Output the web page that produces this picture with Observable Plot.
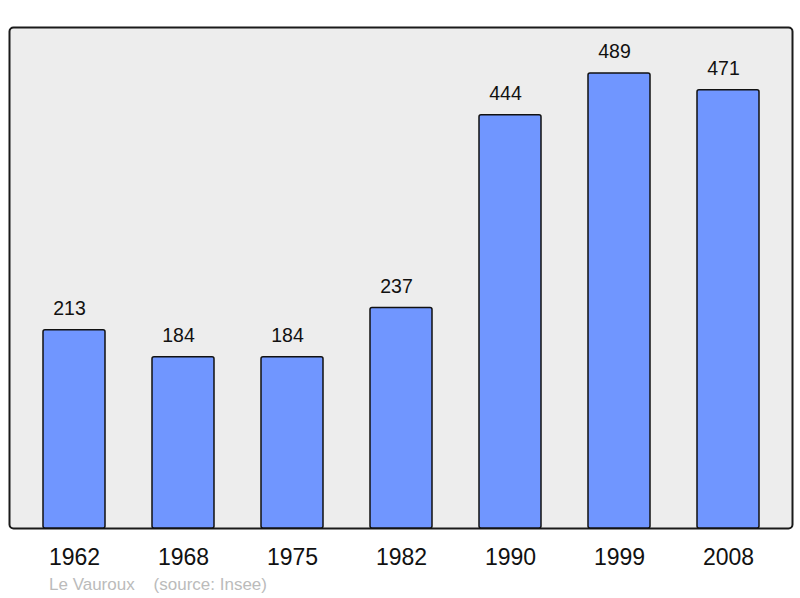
<!DOCTYPE html>
<html>
<head>
<meta charset="utf-8">
<script src="https://cdn.jsdelivr.net/npm/d3@7"></script>
<script src="https://cdn.jsdelivr.net/npm/@observablehq/plot@0.6"></script>
<style>
  html, body { margin: 0; padding: 0; background: #fff; }
  figure { margin: 0; }
  figcaption {
    font-family: "Liberation Sans", Arial, sans-serif;
    font-size: 17px;
    line-height: 16px;
    color: #bbbbbb;
    white-space: pre;
    padding-left: 49px;
    margin-top: 5px;
  }
</style>
</head>
<body>
<div id="chart"></div>
<script>
const years = ["1962", "1968", "1975", "1982", "1990", "1999", "2008"];
const population = [213, 184, 184, 237, 444, 489, 471];
const captionText = "Le Vauroux    (source: Insee)";

const data = years.map((year, i) => ({year, pop: population[i]}));

const chart = Plot.plot({
  width: 800,
  height: 572,
  marginLeft: 9,
  marginRight: 8,
  marginTop: 27,
  marginBottom: 44,
  style: {fontFamily: "'Liberation Sans', Arial, sans-serif", background: "#ffffff", overflow: "visible"},
  caption: captionText,
  x: {type: "band", domain: years, paddingInner: 0.428, paddingOuter: 0, insetLeft: 33, insetRight: 31, label: null},
  y: {domain: [0, 538.4], axis: null},
  marks: [
    Plot.frame({fill: "#ededed", stroke: "#1a1a1a", strokeWidth: 2, rx: 4}),
    Plot.barY(data, {x: "year", y: "pop", fill: "#7096ff", stroke: "#111111", strokeWidth: 1.5, rx: 2}),
    Plot.text(data, {x: "year", y: "pop", text: d => String(d.pop), dy: -15, dx: -5, lineAnchor: "bottom", fontSize: 19.5, fill: "#111111"}),
    Plot.axisX({tickSize: 0, tickPadding: 20, fontSize: 23, label: null, color: "#111111"})
  ]
});
document.getElementById("chart").appendChild(chart);
</script>
</body>
</html>
